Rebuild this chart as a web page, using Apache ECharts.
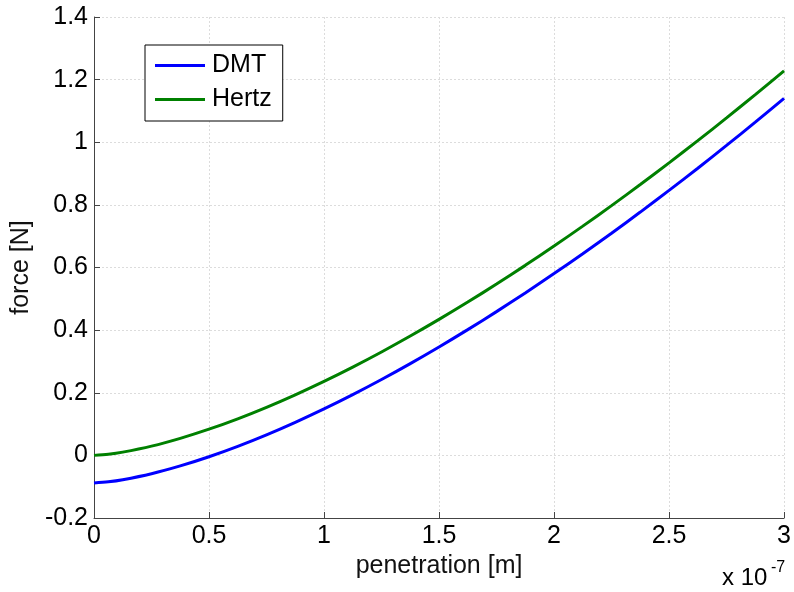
<!DOCTYPE html>
<html>
<head>
<meta charset="utf-8">
<script src="https://cdn.jsdelivr.net/npm/echarts@6/dist/echarts.min.js"></script>
<style>html,body{margin:0;padding:0;background:#fff}#c{width:794px;height:592px}</style>
</head>
<body>
<div id="c"></div>
<script>
// penetration in units of 1e-7 m
var penetration = [0, 0.0625, 0.125, 0.25, 0.375, 0.5, 0.625, 0.75, 0.875, 1.0, 1.125, 1.25, 1.375, 1.5,
                   1.625, 1.75, 1.875, 2.0, 2.125, 2.25, 2.375, 2.5, 2.625, 2.75, 2.875, 3.0];
var hertzForce = [0.000, 0.0037, 0.0104, 0.0295, 0.0543, 0.0836, 0.1168, 0.1535, 0.1935, 0.2363, 0.2820, 0.3303, 0.3811, 0.4342,
                  0.4896, 0.5471, 0.6068, 0.6685, 0.7321, 0.7976, 0.8650, 0.9342, 1.0051, 1.0778, 1.1521, 1.2280];
var dmtForce   = [-0.088, -0.0843, -0.0776, -0.0585, -0.0337, -0.0044, 0.0288, 0.0655, 0.1055, 0.1483, 0.1940, 0.2423, 0.2931, 0.3462,
                  0.4016, 0.4591, 0.5188, 0.5805, 0.6441, 0.7096, 0.7770, 0.8462, 0.9171, 0.9898, 1.0641, 1.1400];
var seriesNames = ['DMT', 'Hertz'];
var xTicks = ['0', '0.5', '1', '1.5', '2', '2.5', '3'];
var yTicks = ['-0.2', '0', '0.2', '0.4', '0.6', '0.8', '1', '1.2', '1.4'];

function pairs(xs, ys) { return xs.map(function (x, i) { return [x, ys[i]]; }); }

var chart = echarts.init(document.getElementById('c'), null, { renderer: 'canvas' });
var font = 'Liberation Sans, Arial, sans-serif';
chart.setOption({
  animation: false,
  backgroundColor: '#ffffff',
  grid: { left: 94, top: 17, width: 693, height: 501, containLabel: false },
  legend: {
    left: 145, top: 45, orient: 'vertical',
    data: seriesNames,
    itemWidth: 50, itemHeight: 3, itemGap: 9,
    padding: [8, 11, 9, 10],
    borderColor: '#000', borderWidth: 1, backgroundColor: '#fff', borderRadius: 0,
    textStyle: { fontFamily: font, fontSize: 25, color: '#000', padding: [0, 0, 0, 2] },
    icon: 'rect'
  },
  xAxis: {
    type: 'value', min: 0, max: 3, interval: 0.5,
    name: 'penetration [m]', nameLocation: 'middle', nameGap: 31,
    nameTextStyle: { fontFamily: font, fontSize: 25, color: '#111' },
    axisLine: { show: true, onZero: false, lineStyle: { color: '#444', width: 1 } },
    axisTick: { show: true, inside: true, length: 6, lineStyle: { color: '#444' } },
    axisLabel: { fontFamily: font, fontSize: 25, color: '#000', margin: 6,
      formatter: function (v) { var i = Math.round(v / 0.5); return xTicks[i]; } },
    splitLine: { show: true, lineStyle: { color: '#dcdcdc', type: [2, 2], width: 1 } }
  },
  yAxis: {
    type: 'value', min: -0.2, max: 1.4, interval: 0.2,
    name: 'force [N]', nameLocation: 'middle', nameGap: 60, nameRotate: 90,
    nameTextStyle: { fontFamily: font, fontSize: 25, color: '#111' },
    axisLine: { show: true, onZero: false, lineStyle: { color: '#444', width: 1 } },
    axisTick: { show: true, inside: true, length: 6, lineStyle: { color: '#444' } },
    axisLabel: { fontFamily: font, fontSize: 25, color: '#000', margin: 6,
      formatter: function (v) { var i = Math.round((v + 0.2) / 0.2); return yTicks[i]; } },
    splitLine: { show: true, lineStyle: { color: '#dcdcdc', type: [2, 2], width: 1 } }
  },
  graphic: [
    { type: 'text', x: 722, y: 578,
      style: { text: 'x 10', fontFamily: font, fontSize: 24, fill: '#000', verticalAlign: 'middle', align: 'left' } },
    { type: 'text', x: 771, y: 568,
      style: { text: '-7', fontFamily: font, fontSize: 16, fill: '#000', verticalAlign: 'middle', align: 'left' } }
  ],
  series: [
    { name: seriesNames[0], type: 'line', data: pairs(penetration, dmtForce), smooth: 0.3,
      showSymbol: false, lineStyle: { color: '#0000ff', width: 3 }, itemStyle: { color: '#0000ff' } },
    { name: seriesNames[1], type: 'line', data: pairs(penetration, hertzForce), smooth: 0.3,
      showSymbol: false, lineStyle: { color: '#008000', width: 3 }, itemStyle: { color: '#008000' } }
  ]
});
</script>
</body>
</html>
